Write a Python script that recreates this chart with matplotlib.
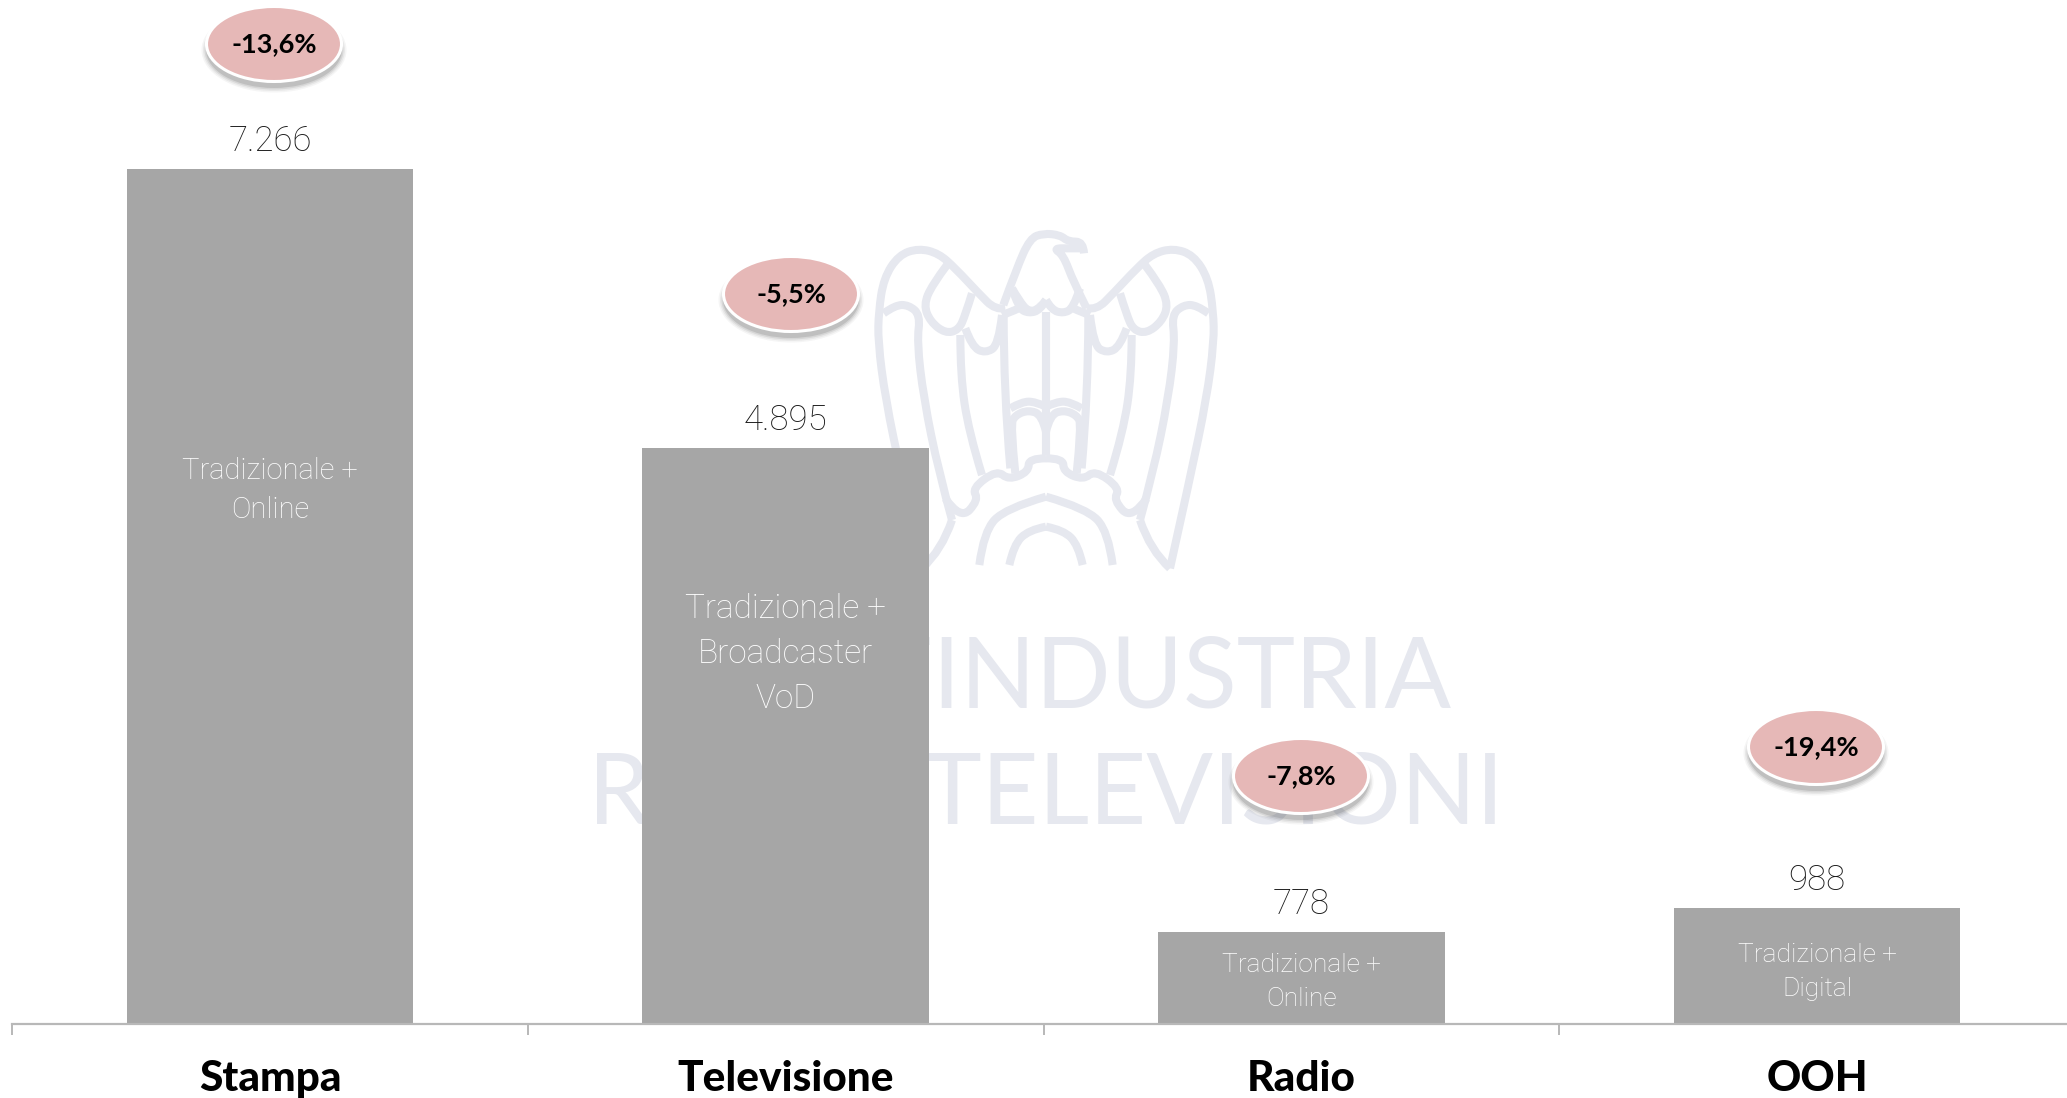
#!/usr/bin/env python3
import matplotlib
matplotlib.use("Agg")
import matplotlib.pyplot as plt
from matplotlib.patches import Ellipse, PathPatch
from matplotlib.path import Path

categories = ["Stampa", "Televisione", "Radio", "OOH"]
values = [7266, 4895, 778, 988]
value_labels = ["7.266", "4.895", "778", "988"]
changes = ["-13,6%", "-5,5%", "-7,8%", "-19,4%"]
inner_labels = ["Tradizionale +\nOnline", "Tradizionale +\nBroadcaster\nVoD",
                "Tradizionale +\nOnline", "Tradizionale +\nDigital"]

W, H = 2067, 1098
BAR = "#a6a6a6"
PINK = "#e6b8b7"
MARK = "#e6e8ef"
FONT = "Lato"
THIN = "Roboto"

# layout, in reference pixels
pill_xy = [(274, 44), (791, 294), (1301, 776), (1816, 747)]
inner_y = [490, 654, 982, 972]
inner_size = [21, 24, 19, 19]
inner_spacing = [1.5, 1.5, 1.5, 1.5]

eagle_half = [
    [(930, 1030), (990, 760), (1040, 520), (1062, 350), (1060, 260), (1045, 160), (1000, 90),
     (940, 70), (880, 85), (830, 130), (760, 205), (710, 255), (680, 250)],
    [(930, 1030), (870, 975), (840, 885)],
    [(840, 885), (880, 740), (925, 520), (945, 350), (935, 270), (970, 240), (1010, 240), (1045, 265)],
    [(855, 120), (900, 180), (925, 240), (905, 290), (860, 325), (820, 315), (800, 270), (780, 205)],
    [(815, 330), (815, 450), (790, 620), (750, 750)],
    [(800, 310), (780, 365), (740, 385), (700, 360), (690, 270)],
    [(685, 270), (685, 500), (665, 730)],
    [(558, 260), (558, 690)],
    [(558, 225), (575, 255), (610, 265), (640, 250), (660, 190)],
    [(640, 250), (665, 262), (690, 270)],
    [(558, 545), (590, 530), (630, 530), (665, 550)],
    [(558, 620), (570, 570), (610, 555), (650, 570), (665, 600), (650, 745)],
    [(558, 700), (610, 700), (610, 740), (670, 765), (705, 735), (780, 790), (760, 825), (815, 885), (860, 820)],
    [(758, 1020), (745, 920), (680, 850), (558, 815)],
    [(668, 1020), (655, 960), (610, 915), (558, 905)],
]
eagle_head = [
    [(430, 240), (470, 130), (510, 40), (550, 25), (600, 30), (625, 50), (670, 50), (672, 85)],
    [(670, 70), (630, 70), (580, 70), (610, 90), (640, 170), (680, 250)],
    [(456, 190), (476, 225), (506, 262), (540, 250), (558, 225)],
]


def crop_path(points):
    # quadratic curve through the segment midpoints, crop pixels to reference pixels
    pts = [(860 + x / 3, 225 + y / 3) for x, y in points]
    verts = [pts[0]]
    codes = [Path.MOVETO]
    for a, b in zip(pts[1:-1], pts[2:]):
        end = ((a[0] + b[0]) / 2, (a[1] + b[1]) / 2)
        if b == pts[-1]:
            end = b
        verts += [a, end]
        codes += [Path.CURVE3, Path.CURVE3]
    if len(pts) == 2:
        verts.append(pts[1])
        codes.append(Path.LINETO)
    return Path(verts, codes)


def add_stroke(axis, points):
    axis.add_patch(PathPatch(crop_path(points), facecolor="none", edgecolor=MARK, lw=5.8,
                             capstyle="butt", joinstyle="round"))


fig = plt.figure(figsize=(W / 100, H / 100), dpi=100, facecolor="white")

# watermark sits under the bars
bg = fig.add_axes([0, 0, 1, 1], zorder=0)
bg.set_xlim(0, W)
bg.set_ylim(H, 0)
bg.axis("off")
for line in eagle_half:
    add_stroke(bg, line)
    add_stroke(bg, [(2 * 558 - x, y) for x, y in line])
for line in eagle_head:
    add_stroke(bg, line)
bg.text(1452, 707, "CONFINDUSTRIA", color=MARK, fontsize=71, family=FONT,
        ha="right", va="baseline")
bg.text(1046, 824, "RADIO TELEVISIONI", color=MARK, fontsize=71, family=FONT,
        ha="center", va="baseline")

ax = fig.add_axes([0, 0, 1, 1], zorder=1)
ax.patch.set_alpha(0)
ax.set_xlim(-0.5236, 3.4846)
ax.set_ylim(-629, 8700)
ax.bar(range(4), values, width=0.556, color=BAR)

for spine in ("top", "left", "right"):
    ax.spines[spine].set_visible(False)
ax.spines["bottom"].set_position(("data", 0))
ax.spines["bottom"].set_color("#b8b8b8")
ax.spines["bottom"].set_linewidth(1.6)
ax.spines["bottom"].set_bounds(-0.5, 3.6)
ax.set_yticks([])
ax.set_xticks([-0.5, 0.5, 1.5, 2.5])
ax.set_xticklabels([])
ax.tick_params(axis="x", direction="out", length=8, width=1.4, color="#b8b8b8")

inv = ax.transData.inverted()
for i, (cat, val, lab, inner) in enumerate(zip(categories, values, value_labels, inner_labels)):
    ax.annotate(lab, (i, val), xytext=(0, 20), textcoords="offset points", ha="center", va="center",
                fontsize=25, family=THIN, weight="light", color="#1a1a1a")
    y_data = inv.transform((0, H - inner_y[i]))[1]
    ax.text(i, y_data, inner, color="white", fontsize=inner_size[i], family=THIN, weight="light",
            ha="center", va="center", linespacing=inner_spacing[i])
    y_cat = inv.transform((0, H - 1079))[1]
    ax.text(i, y_cat, cat, color="black", fontsize=30.5, family=FONT, weight="black",
            ha="center", va="center")

# change bubbles on top of everything
fg = fig.add_axes([0, 0, 1, 1], zorder=2)
fg.patch.set_alpha(0)
fg.set_xlim(0, W)
fg.set_ylim(H, 0)
fg.axis("off")
for (x, y), txt in zip(pill_xy, changes):
    for grow, alpha in [(10, 0.05), (7, 0.07), (4, 0.1), (1, 0.15)]:
        fg.add_patch(Ellipse((x, y + 6), 135 + grow, 75 + grow, color="#404040", alpha=alpha, lw=0))
    fg.add_patch(Ellipse((x, y), 135, 75, facecolor=PINK, edgecolor="white", linewidth=2.2))
    fg.text(x, y, txt, color="black", fontsize=19.5, family=FONT, weight="bold", ha="center", va="center")

fig.savefig("out.png", dpi=100)
